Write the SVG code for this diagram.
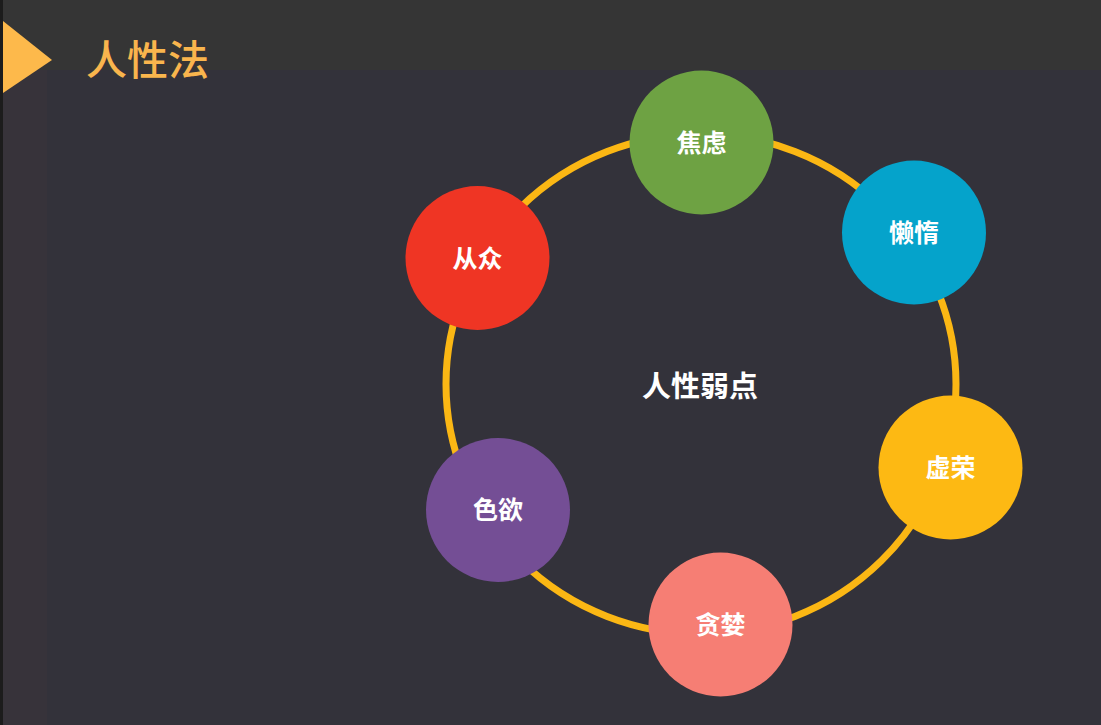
<svg xmlns="http://www.w3.org/2000/svg" width="1101" height="725" viewBox="0 0 1101 725">
<style>
.lbl{font-family:"Noto Sans CJK SC","Noto Sans",sans-serif;font-weight:700;fill:#ffffff;font-size:25px;text-anchor:middle;dominant-baseline:central}
.node{stroke:none}
</style>
<rect x="0" y="0" width="1101" height="725" fill="#33323a"/>
<rect x="0" y="0" width="1101" height="70" fill="#353535"/>
<rect x="2" y="70" width="45" height="655" fill="#37333a"/>
<rect x="0" y="0" width="3" height="725" fill="#1c1c1c"/>
<polygon points="3,21 52,60 3,93" fill="#fdb94b"/>
<text x="86" y="57" style="font-family:'Noto Sans CJK SC',sans-serif;font-weight:500;font-size:41px;fill:#f9b54d;dominant-baseline:central">人性法</text>
<g id="connectors">
<ellipse cx="701" cy="384" rx="255" ry="250" fill="none" stroke="#fbb714" stroke-width="7"/>
</g>
<g id="center"><text class="lbl" x="700" y="384" style="font-size:29px">人性弱点</text></g>
<g id="n-jiaolv"><circle class="node" cx="701.5" cy="142.5" r="72" fill="#6ea243"/><text class="lbl" x="701.5" y="141">焦虑</text></g>
<g id="n-landuo"><circle class="node" cx="914" cy="232.5" r="72" fill="#05a3cb"/><text class="lbl" x="914" y="231">懒惰</text></g>
<g id="n-xurong"><circle class="node" cx="950.5" cy="467.5" r="72" fill="#fdb913"/><text class="lbl" x="950.5" y="466">虚荣</text></g>
<g id="n-tanlan"><circle class="node" cx="720.5" cy="624.5" r="72" fill="#f67e74"/><text class="lbl" x="720.5" y="623">贪婪</text></g>
<g id="n-seyu"><circle class="node" cx="498" cy="510" r="72" fill="#744e95"/><text class="lbl" x="498" y="508">色欲</text></g>
<g id="n-congzhong"><circle class="node" cx="477.5" cy="258" r="72" fill="#ef3524"/><text class="lbl" x="477.5" y="257">从众</text></g>
</svg>
